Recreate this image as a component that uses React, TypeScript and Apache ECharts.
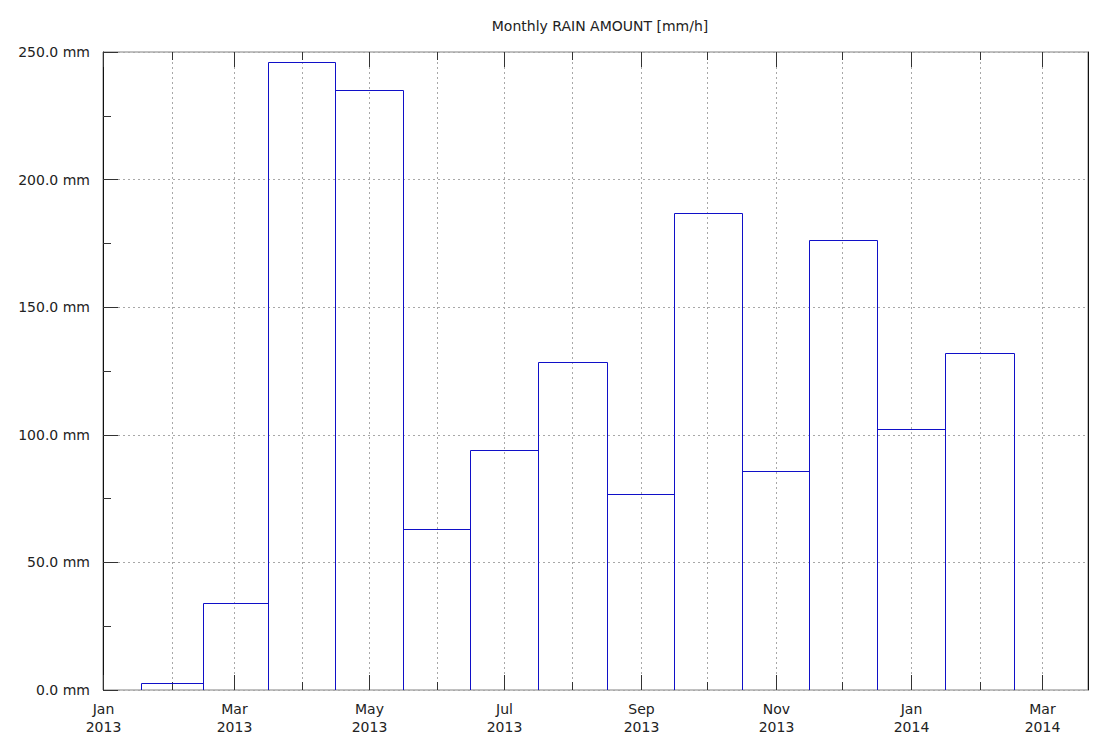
import React, { useEffect, useRef } from "react";
import * as echarts from "echarts";

// ---- data ----
const barDates: string[] = [
  "2013-02-01", "2013-03-01", "2013-04-01", "2013-05-01", "2013-06-01",
  "2013-07-01", "2013-08-01", "2013-09-01", "2013-10-01", "2013-11-01",
  "2013-12-01", "2014-01-01", "2014-02-01",
];
const rainValues: number[] = [
  2.6, 34.2, 246.0, 235.0, 63.0, 93.9, 128.5, 76.9, 186.8, 85.8, 176.3, 102.4, 132.2,
];
const monthTicks: string[] = [
  "2013-01-01", "2013-02-01", "2013-03-01", "2013-04-01", "2013-05-01",
  "2013-06-01", "2013-07-01", "2013-08-01", "2013-09-01", "2013-10-01",
  "2013-11-01", "2013-12-01", "2014-01-01", "2014-02-01", "2014-03-01",
];
const tickLabels: string[] = [
  "Jan\n2013", "", "Mar\n2013", "", "May\n2013", "", "Jul\n2013", "",
  "Sep\n2013", "", "Nov\n2013", "", "Jan\n2014", "", "Mar\n2014",
];
const xMinDate = "2013-01-01";
const xMaxDate = "2014-03-22";
const titleText = "Monthly RAIN AMOUNT [mm/h]";

const ms = (s: string) => new Date(s + "T00:00:00Z").getTime();

const FONT = '"DejaVu Sans", sans-serif';

export default function App() {
  const ref = useRef<HTMLDivElement>(null);

  useEffect(() => {
    if (!ref.current) return;
    const chart = echarts.init(ref.current, undefined, { renderer: "svg" });

    const centers = barDates.map(ms);
    const barData = centers.map((c, i) => {
      const prevGap = i > 0 ? c - centers[i - 1] : centers[1] - centers[0];
      const nextGap = i < centers.length - 1 ? centers[i + 1] - c : c - centers[i - 1];
      return [c - prevGap / 2, c + nextGap / 2, rainValues[i]];
    });
    const tickData = monthTicks.map((d, i) => [ms(d), tickLabels[i] ? 1 : 0, i]);

    const option: any = {
      animation: false,
      backgroundColor: "#ffffff",
      title: {
        text: titleText,
        left: 595,
        top: 14,
        textAlign: "center",
        textStyle: { fontFamily: FONT, fontSize: 14, fontWeight: "normal", color: "#222" },
      },
      grid: {
        left: 103,
        right: 25,
        top: 52,
        bottom: 54,
        show: true,
        borderColor: "#808080",
        borderWidth: 1,
        backgroundColor: "transparent",
      },
      xAxis: {
        type: "value",
        min: ms(xMinDate),
        max: ms(xMaxDate),
        axisLine: { show: false },
        axisTick: { show: false },
        axisLabel: { show: false },
        splitLine: { show: false },
      },
      yAxis: [
        {
          type: "value",
          min: 0,
          max: 250,
          interval: 50,
          axisLine: { show: true, lineStyle: { color: "#111", width: 1 } },
          axisTick: { show: true, inside: true, length: 15, lineStyle: { color: "#333" } },
          minorTick: { show: true, splitNumber: 2, length: 8, lineStyle: { color: "#333" } },
          axisLabel: {
            margin: 13,
            fontFamily: FONT,
            fontSize: 14,
            color: "#222",
            formatter: (v: number) => v.toFixed(1) + " mm",
          },
          splitLine: {
            show: true,
            lineStyle: { color: "#a8a8a8", type: [2, 3], width: 1 },
          },
        },
        {
          type: "value",
          position: "right",
          min: 0,
          max: 250,
          interval: 50,
          axisLine: { show: true, lineStyle: { color: "#111", width: 1 } },
          axisTick: { show: false },
          axisLabel: { show: false },
          splitLine: { show: false },
        },
      ],
      series: [
        {
          type: "custom",
          name: "ticks",
          z: 1,
          silent: true,
          clip: false,
          data: tickData,
          encode: { x: 0 },
          renderItem: (params: any, api: any) => {
            const t = api.value(0);
            const major = api.value(1) === 1;
            const idx = api.value(2);
            const p = api.coord([t, 0]);
            const x = Math.round(p[0]) + 0.5;
            const cs = params.coordSys;
            const yt = cs.y;
            const yb = cs.y + cs.height;
            const len = major ? 15 : 8;
            const children: any[] = [];
            if (idx > 0) {
              children.push({
                type: "line",
                shape: { x1: x, y1: yt, x2: x, y2: yb },
                style: { stroke: "#a8a8a8", lineWidth: 1, lineDash: [2, 3] },
              });
            }
            children.push({
              type: "line",
              shape: { x1: x, y1: yb, x2: x, y2: yb - len },
              style: { stroke: "#333", lineWidth: 1 },
            });
            children.push({
              type: "line",
              shape: { x1: x, y1: yt, x2: x, y2: yt + len },
              style: { stroke: "#333", lineWidth: 1 },
            });
            const label = tickLabels[idx];
            if (label) {
              children.push({
                type: "text",
                style: {
                  text: label,
                  x: x,
                  y: yb + 10,
                  align: "center",
                  verticalAlign: "top",
                  font: `14px ${FONT}`,
                  lineHeight: 18,
                  fill: "#222",
                },
              });
            }
            return { type: "group", children };
          },
        },
        {
          type: "custom",
          name: "Monthly rain",
          z: 3,
          data: barData,
          encode: { x: [0, 1], y: 2 },
          renderItem: (params: any, api: any) => {
            const a = api.coord([api.value(0), api.value(2)]);
            const b = api.coord([api.value(1), 0]);
            const x1 = Math.round(a[0]) + 0.5;
            const x2 = Math.round(b[0]) + 0.5;
            const y1 = Math.round(a[1]) + 0.5;
            const y2 = Math.round(b[1]);
            return {
              type: "polyline",
              shape: { points: [[x1, y2], [x1, y1], [x2, y1], [x2, y2]] },
              style: { fill: "none", stroke: "#1010c8", lineWidth: 1 },
            };
          },
        },
      ],
    };

    chart.setOption(option);
    return () => chart.dispose();
  }, []);

  return (
    <div
      ref={ref}
      style={{ position: "fixed", left: 0, top: 0, width: 1113, height: 744, background: "#fff" }}
    />
  );
}
